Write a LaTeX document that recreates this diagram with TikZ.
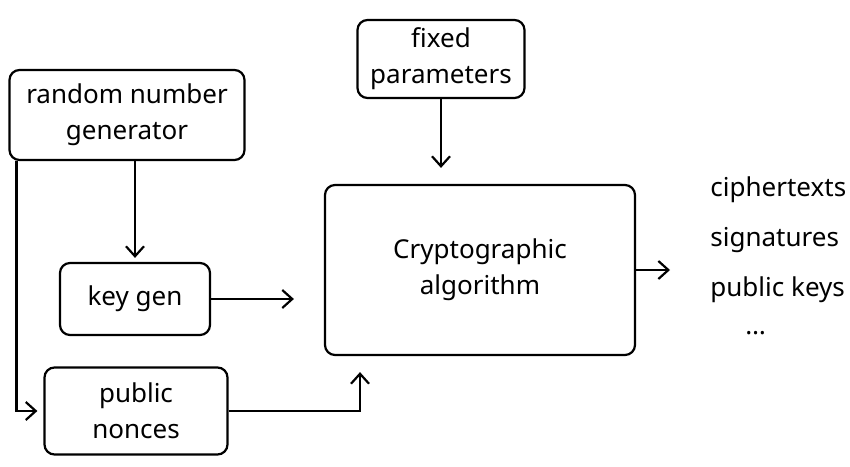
\documentclass[tikz,border=0pt]{standalone}
\usepackage{fontspec}
\setmainfont{Noto Sans}
\usetikzlibrary{arrows.meta,positioning}
\tikzset{
  box/.style={draw, line width=1.1pt, rounded corners=5pt, align=center, inner sep=0pt, font=\fontsize{13}{18}\selectfont},
  conn/.style={line width=1.1pt, -{Straight Barb[length=5pt,width=9pt]}},
  outtxt/.style={font=\fontsize{13}{16}\selectfont, anchor=west, inner sep=0pt}
}
\begin{document}
\begin{tikzpicture}[x=0.5pt,y=-0.5pt]
\useasboundingbox (0,0) rectangle (850,466);
% boxes
\node[box, minimum width=117.5pt, minimum height=45pt] (rng) at (127,115) {random number\\generator};
\node[box, minimum width=83.5pt, minimum height=39pt] (fixed) at (441,59) {fixed\\parameters};
\node[box, minimum width=75pt, minimum height=36pt] (key) at (135,299) {key gen};
\node[box, minimum width=91.5pt, minimum height=43.5pt] (nonces) at (136,411) {public\\nonces};
\node[box, minimum width=155pt, minimum height=85pt] (crypto) at (480,270) {Cryptographic\\algorithm};
% outputs
\node[outtxt] (o1) at (710,190) {ciphertexts};
\node[outtxt] (o2) at (710,240) {signatures};
\node[outtxt] (o3) at (710,290) {public keys};
\node[outtxt] (o4) at (745,333) {\dots};
\coordinate (outend) at (670,270);
% connectors
\draw[conn, shorten >=22pt] (rng.south -| key.north) -- ([yshift=-20pt]key.north);
\draw[conn] ([xshift=4pt]rng.south west) |- ([xshift=-3pt]nonces.west);
\draw[conn, shorten >=15pt] (key.east) -- (key.east -| crypto.west);
\draw[conn] (nonces.east) -| ([xshift=-60pt,yshift=-8pt]crypto.south);
\draw[conn, shorten >=8pt] (fixed.south) -- (fixed.south |- crypto.north);
\draw[conn] (crypto.east) -- (outend);
\end{tikzpicture}
\end{document}
